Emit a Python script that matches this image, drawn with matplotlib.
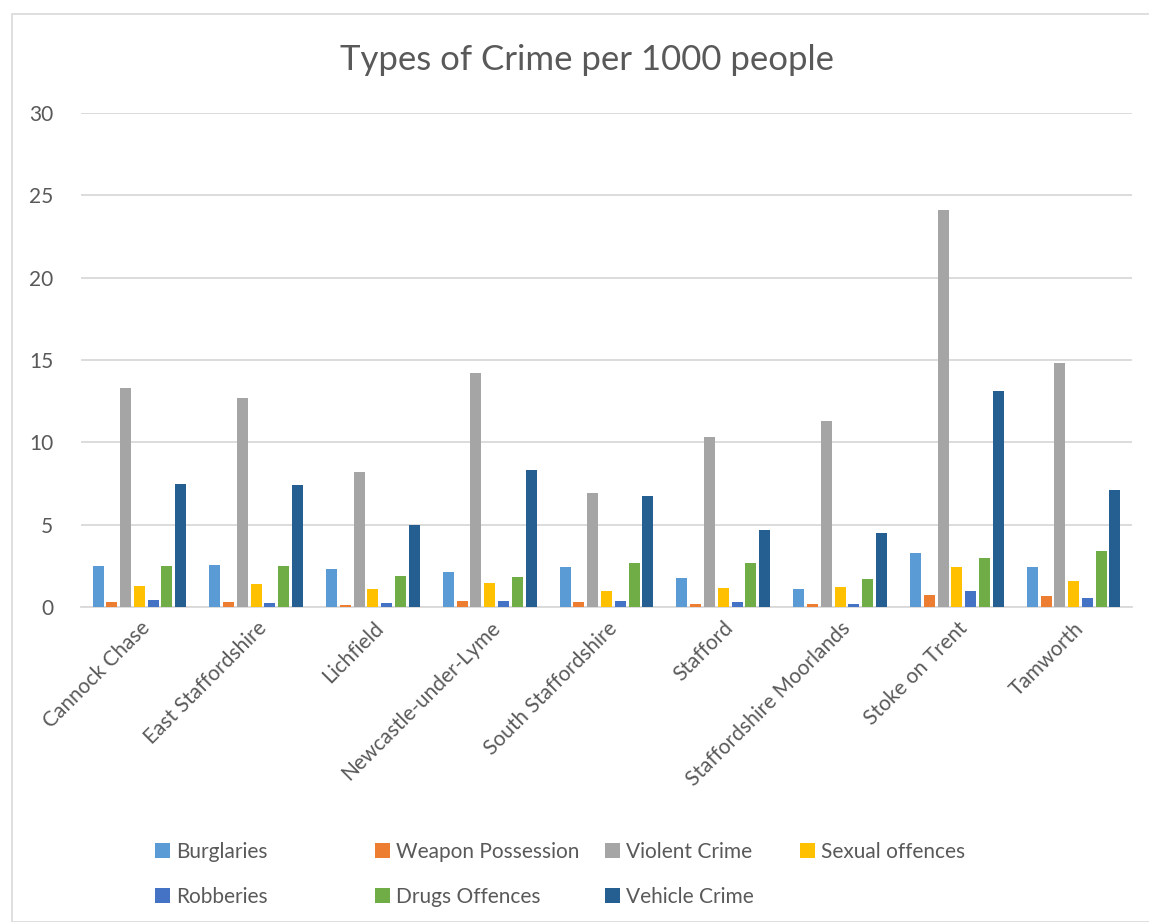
import numpy as np
import matplotlib.pyplot as plt
from matplotlib.patches import Rectangle

plt.rcParams['font.family'] = ['Lato', 'DejaVu Sans']

districts = ['Cannock Chase', 'East Staffordshire', 'Lichfield', 'Newcastle-under-Lyme',
             'South Staffordshire', 'Stafford', 'Staffordshire Moorlands',
             'Stoke on Trent', 'Tamworth']

burglaries = [2.5, 2.55, 2.3, 2.1, 2.4, 1.75, 1.1, 3.25, 2.45]
weapon_possession = [0.3, 0.3, 0.15, 0.35, 0.3, 0.2, 0.2, 0.7, 0.65]
violent_crime = [13.3, 12.7, 8.2, 14.2, 6.95, 10.3, 11.3, 24.1, 14.8]
sexual_offences = [1.3, 1.4, 1.1, 1.45, 1.0, 1.15, 1.2, 2.45, 1.6]
robberies = [0.4, 0.25, 0.25, 0.35, 0.35, 0.3, 0.2, 1.0, 0.55]
drugs_offences = [2.5, 2.5, 1.9, 1.85, 2.7, 2.7, 1.7, 3.0, 3.4]
vehicle_crime = [7.47, 7.4, 5.0, 8.3, 6.75, 4.7, 4.5, 13.1, 7.1]

series = [
    ('Burglaries', burglaries, '#5B9BD5'),
    ('Weapon Possession', weapon_possession, '#ED7D31'),
    ('Violent Crime', violent_crime, '#A5A5A5'),
    ('Sexual offences', sexual_offences, '#FFC000'),
    ('Robberies', robberies, '#4472C4'),
    ('Drugs Offences', drugs_offences, '#70AD47'),
    ('Vehicle Crime', vehicle_crime, '#255E91'),
]

W, H = 1149, 922
fig = plt.figure(figsize=(W / 100, H / 100), dpi=100)
ax = fig.add_axes([81 / W, 1 - 607 / H, (1132 - 81) / W, (607 - 113) / H])

# chart border
fig.patches.append(Rectangle((12 / W, 0), 1.2, 1 - 14 / H, transform=fig.transFigure,
                             fill=False, edgecolor='#D9D9D9', linewidth=1.2))

x = np.arange(len(districts))
pitch = 0.118
width = 0.095
bars = {}
for i, (name, vals, col) in enumerate(series):
    bars[name] = ax.bar(x + (i - 3) * pitch, vals, width, color=col, label=name, zorder=3)

ax.set_xlim(-0.5, len(districts) - 0.5)
ax.set_ylim(0, 30)
ax.set_yticks(range(0, 31, 5))
ax.yaxis.grid(True, color='#D9D9D9', linewidth=1.3, zorder=0)
for s in ['top', 'right', 'left']:
    ax.spines[s].set_visible(False)
ax.spines['bottom'].set_color('#D9D9D9')
ax.spines['bottom'].set_linewidth(1.3)
ax.tick_params(axis='both', length=0, labelsize=15, colors='#595959')
ax.tick_params(axis='y', pad=20)
ax.set_xticks(x)
ax.set_xticklabels(districts, rotation=45, ha='right', rotation_mode='anchor')
ax.tick_params(axis='x', pad=8)

fig.text(0.511, 1 - 60 / H, 'Types of Crime per 1000 people', ha='center', va='center',
         fontsize=25, color='#595959')

# legend laid out in four columns, two rows
columns = [(155, ['Burglaries', 'Robberies']),
           (375, ['Weapon Possession', 'Drugs Offences']),
           (605, ['Violent Crime', 'Vehicle Crime']),
           (800, ['Sexual offences'])]
for xpos, names in columns:
    leg = fig.legend([bars[n] for n in names], names, loc='upper left',
                     bbox_to_anchor=(xpos / W, 1 - 842 / H), frameon=False, fontsize=15,
                     handlelength=0.7, handleheight=0.7, handletextpad=0.3,
                     labelspacing=1.2, borderaxespad=0, borderpad=0)
    for t in leg.get_texts():
        t.set_color('#595959')

fig.savefig('out.png', dpi=100)
